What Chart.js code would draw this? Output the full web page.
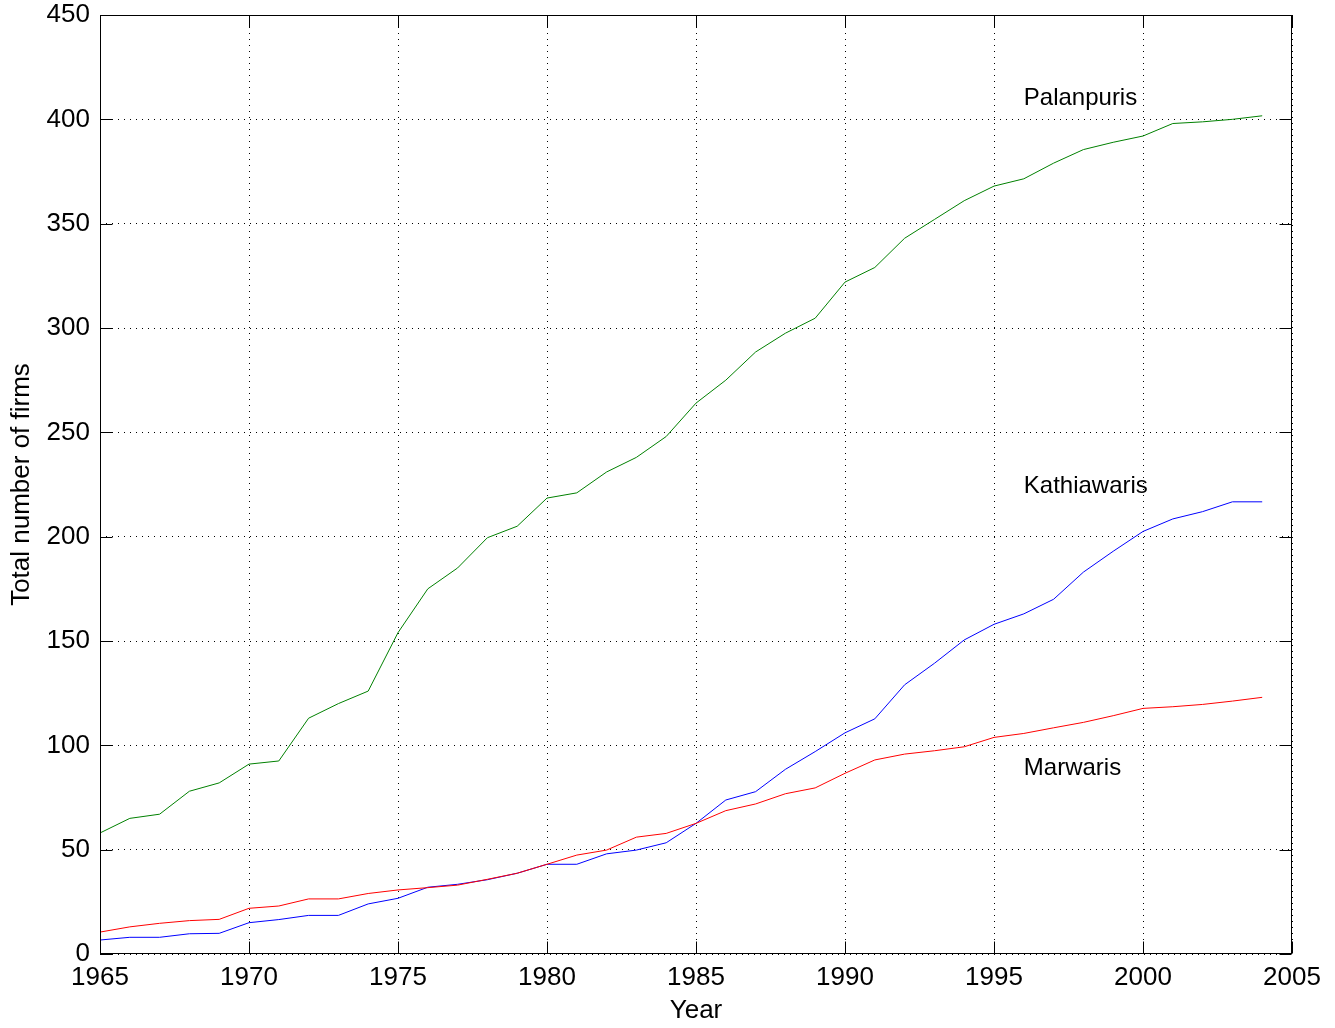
<!DOCTYPE html>
<html>
<head>
<meta charset="utf-8">
<script src="https://cdn.jsdelivr.net/npm/chart.js@4/dist/chart.umd.min.js"></script>
<style>
  html, body { margin: 0; padding: 0; background: #fff; }
  #wrap { width: 1335px; height: 1028px; position: relative; }
</style>
</head>
<body>
<div id="wrap"><canvas id="c" width="1335" height="1028"></canvas></div>
<script>
const years = [1965,1966,1967,1968,1969,1970,1971,1972,1973,1974,1975,1976,1977,1978,1979,1980,1981,1982,1983,1984,1985,1986,1987,1988,1989,1990,1991,1992,1993,1994,1995,1996,1997,1998,1999,2000,2001,2002,2003,2004];
const palanpuris = [58,65,67,78,82,91,92.5,113,120,126,154,175,185,199.5,205,218.5,221,231,238,248,264,275,288.5,297.5,304.7,322,329,343,352,361,368,371.5,379,385.5,389,392,398,398.8,400,401.7];
const kathiawaris = [6.7,8,8,9.7,9.9,15,16.5,18.5,18.5,24,26.7,32,33.4,35.6,38.7,43,43,48,49.8,53.3,62.6,73.8,77.8,88.5,97,106,112.7,129,139.3,150.5,158,163,170,183,193,202.5,208.5,212,216.7,216.7];
const marwaris = [10.5,13,14.7,16,16.6,21.9,23,26.4,26.4,29,30.7,31.8,33,35.8,38.7,43,47.4,49.8,56,57.8,62.6,68.7,71.9,76.8,79.6,86.6,93,95.8,97.4,99.3,103.8,105.7,108.4,111,114.2,117.7,118.5,119.6,121.2,123];
const seriesNames = ['Palanpuris','Kathiawaris','Marwaris'];
const labelPos = [[1996, 410], [1996, 224], [1996, 89]];
const xTicks = [1965,1970,1975,1980,1985,1990,1995,2000,2005];
const yTicks = [0,50,100,150,200,250,300,350,400,450];

const FONT = "'Liberation Sans', Arial, Helvetica, sans-serif";
const toXY = arr => arr.map((v, i) => ({x: years[i], y: v}));

const framePlugin = {
  id: 'matlabFrame',
  afterDraw(chart) {
    const {ctx, chartArea: a, scales} = chart;
    ctx.save();
    ctx.strokeStyle = '#000';
    ctx.lineWidth = 1;
    const L = Math.round(a.left) + 0.5, R = Math.round(a.right) - 0.5;
    const T = Math.round(a.top) + 0.5, B = Math.round(a.bottom) - 0.5;
    ctx.strokeRect(L, T, R - L, B - T);
    const tl = 12;
    ctx.beginPath();
    xTicks.forEach(v => {
      const px = Math.round(scales.x.getPixelForValue(v)) + 0.5;
      ctx.moveTo(px, B); ctx.lineTo(px, B - tl);
      ctx.moveTo(px, T); ctx.lineTo(px, T + tl);
    });
    yTicks.forEach(v => {
      const py = Math.round(scales.y.getPixelForValue(v)) + 0.5;
      ctx.moveTo(L, py); ctx.lineTo(L + tl, py);
      ctx.moveTo(R, py); ctx.lineTo(R - tl, py);
    });
    ctx.stroke();
    ctx.fillStyle = '#000';
    ctx.font = '24px ' + FONT;
    ctx.textAlign = 'left';
    ctx.textBaseline = 'middle';
    seriesNames.forEach((n, i) => {
      ctx.fillText(n, scales.x.getPixelForValue(labelPos[i][0]), scales.y.getPixelForValue(labelPos[i][1]));
    });
    ctx.restore();
  }
};

new Chart(document.getElementById('c'), {
  type: 'line',
  data: {
    datasets: [
      { label: seriesNames[2], data: toXY(marwaris), borderColor: '#ff0000', borderWidth: 1, pointRadius: 0, tension: 0, fill: false },
      { label: seriesNames[1], data: toXY(kathiawaris), borderColor: '#0000ff', borderWidth: 1, pointRadius: 0, tension: 0, fill: false },
      { label: seriesNames[0], data: toXY(palanpuris), borderColor: '#008000', borderWidth: 1, pointRadius: 0, tension: 0, fill: false }
    ]
  },
  options: {
    responsive: false,
    animation: false,
    events: [],
    layout: { padding: { left: 0, right: 43, top: 15, bottom: 0 } },
    plugins: { legend: { display: false }, tooltip: { enabled: false }, title: { display: false } },
    scales: {
      x: {
        type: 'linear', min: 1965, max: 2005,
        afterBuildTicks: s => { s.ticks = xTicks.map(v => ({value: v})); },
        afterFit: s => { s.height = 74; s.paddingLeft = 0; s.paddingRight = 0; },
        ticks: { color: '#000', font: { family: FONT, size: 26 }, padding: 8, maxRotation: 0, autoSkip: false, callback: v => String(v) },
        grid: { color: '#000', drawTicks: false, lineWidth: 1 },
        border: { display: false, dash: [1, 5] },
        title: { display: true, text: 'Year', color: '#000', font: { family: FONT, size: 26 }, padding: { top: 0, bottom: 2 } }
      },
      y: {
        min: 0, max: 450,
        afterBuildTicks: s => { s.ticks = yTicks.map(v => ({value: v})); },
        afterFit: s => { s.width = 100; s.paddingTop = 0; s.paddingBottom = 0; },
        ticks: { color: '#000', font: { family: FONT, size: 26 }, padding: 10, autoSkip: false, callback: v => String(v) },
        grid: { color: '#000', drawTicks: false, lineWidth: 1 },
        border: { display: false, dash: [1, 5] },
        title: { display: true, text: 'Total number of firms', color: '#000', font: { family: FONT, size: 26 }, padding: { top: 6.5, bottom: 0 } }
      }
    }
  },
  plugins: [framePlugin]
});
</script>
</body>
</html>
